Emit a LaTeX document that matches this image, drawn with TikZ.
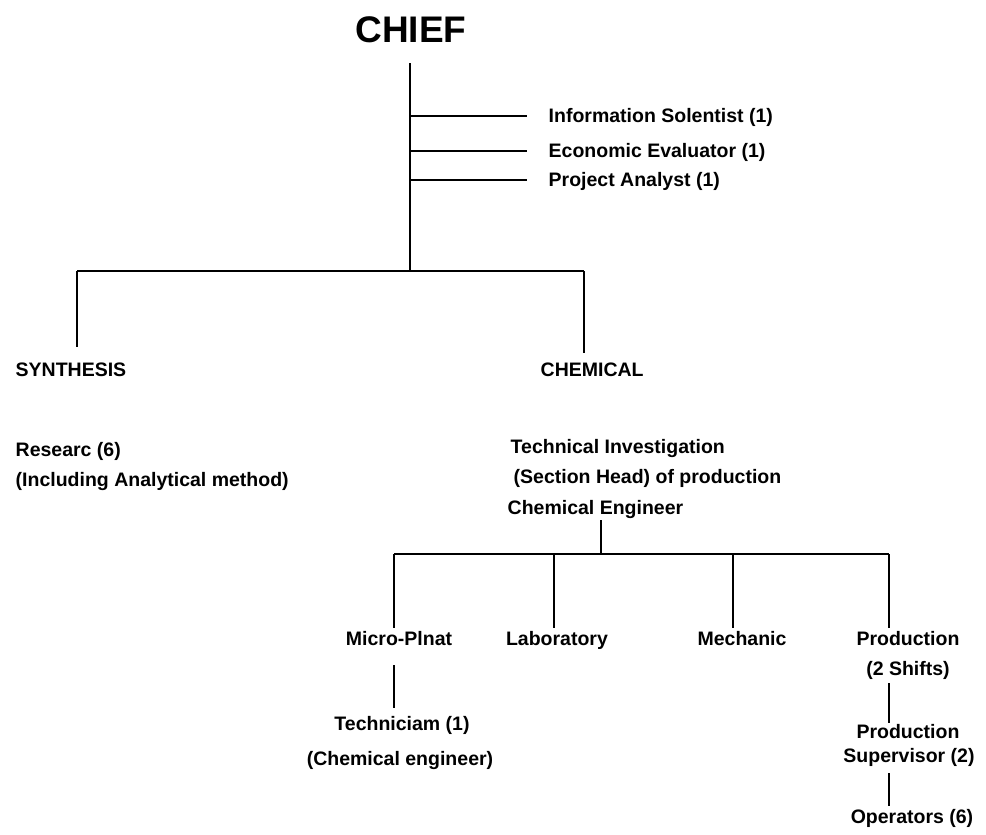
\documentclass[tikz,border=0pt]{standalone}
\usepackage{fontspec}
\setmainfont{Liberation Sans}
\usetikzlibrary{positioning,calc}

\begin{document}
\begin{tikzpicture}[x=1pt, y=-1pt, line width=1.4pt]
    \tikzstyle{lbl}=[font=\bfseries\fontsize{19.5}{24}\selectfont, inner sep=0pt, text height=1.45ex, text depth=0.3ex, yshift=-3pt]
    \tikzstyle{chief}=[lbl, font=\bfseries\fontsize{37}{40}\selectfont]
    \tikzstyle{staff}=[lbl, anchor=west]
    \tikzstyle{unit}=[lbl, anchor=west]

    \useasboundingbox (0,0) rectangle (986,835);

    % Draw the chief and the trunk below him
    \node[chief] (C) at (411,36) {CHIEF};
    \coordinate (T-top) at (410,63);
    \coordinate (T-bot) at (410,271);
    \draw (T-top) -- (T-bot);

    % Draw the staff branches
    \foreach \name / \y / \txt in {1/116/Information Solentist (1),2/151/Economic Evaluator (1),3/180/Project Analyst (1)} {
        \node[staff] (S-\name) at (548,\y) {\txt};
        \coordinate (B-\name) at (527,\y);
        \draw (T-top |- B-\name) -- (B-\name);
    }

    % Draw the two divisions
    \coordinate (D-1) at (77,271);
    \coordinate (D-2) at (584,271);
    \coordinate (E-1) at (77,347);
    \coordinate (E-2) at (584,353);
    \draw (D-1) -- (D-2);
    \draw (D-1) -- (E-1);
    \draw (D-2) -- (E-2);
    \node[unit] (SYN) at (15,370) {SYNTHESIS};
    \node[unit] (CHE) at (540,370) {CHEMICAL};

    \node[unit] (RE) at (15,450) {Researc (6)};
    \node[unit] (IN) at (15,480) {(Including Analytical method)};

    \node[unit] (TI) at (510,447) {Technical Investigation};
    \node[unit] (SH) at (513,477) {(Section Head) of production};
    \node[unit] (CE) at (507,508) {Chemical Engineer};

    % Connect the section head with the four groups
    \coordinate (G) at (601,554);
    \draw ($(G |- CE.south)+(0,4)$) -- (G);
    \foreach \name / \x in {1/394,2/554,3/733,4/889}
        \coordinate (L-\name) at (\x,554);
    \draw (L-1) -- (L-4);

    \foreach \name / \x / \txt in {1/399/Micro-Plnat,2/557/Laboratory,3/742/Mechanic,4/908/Production} {
        \node[lbl] (U-\name) at (\x,639) {\txt};
        \draw (L-\name) -- ($(L-\name |- U-\name.north)+(0,-9)$);
    }
    \node[lbl] (SF) at (908,669) {(2 Shifts)};

    % Micro-plant staff
    \node[lbl] (TC) at (402,724) {Techniciam (1)};
    \node[lbl] (CH) at (400,759) {(Chemical engineer)};
    \draw ($(L-1 |- U-1.south)+(0,18)$) -- ($(L-1 |- TC.north)+(0,-14)$);

    % Production staff
    \node[lbl] (PS) at (908,732) {Production};
    \node[lbl] (SV) at (909,756) {Supervisor (2)};
    \node[lbl] (OP) at (912,817) {Operators (6)};
    \draw ($(L-4 |- SF.south)+(0,6)$) -- ($(L-4 |- PS.north)+(0,-7)$);
    \draw ($(L-4 |- SV.south)+(0,9)$) -- ($(L-4 |- OP.north)+(0,-9)$);
\end{tikzpicture}
\end{document}
